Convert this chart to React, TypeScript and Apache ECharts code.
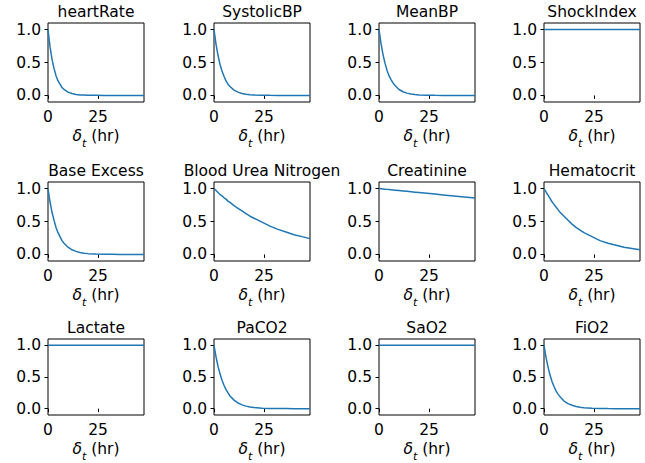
import React, { useEffect, useRef } from "react";
import * as echarts from "echarts";

const hours = [0, 1, 2, 3, 4, 5, 6, 7, 8, 10, 12, 14, 16, 18, 20, 24, 28, 32, 36, 40, 44, 48];

const titles = [
  "heartRate", "SystolicBP", "MeanBP", "ShockIndex",
  "Base Excess", "Blood Urea Nitrogen", "Creatinine", "Hematocrit",
  "Lactate", "PaCO2", "SaO2", "FiO2",
];

const heartRate = [1.0, 0.74, 0.55, 0.41, 0.3, 0.22, 0.17, 0.12, 0.09, 0.05, 0.03, 0.015, 0.008, 0.005, 0.002, 0.001, 0, 0, 0, 0, 0, 0];
const systolicBP = [1.0, 0.78, 0.61, 0.47, 0.37, 0.29, 0.22, 0.17, 0.135, 0.08, 0.05, 0.03, 0.018, 0.011, 0.007, 0.003, 0.001, 0, 0, 0, 0, 0];
const meanBP = [1.0, 0.79, 0.62, 0.49, 0.38, 0.3, 0.24, 0.19, 0.15, 0.09, 0.056, 0.035, 0.022, 0.013, 0.008, 0.003, 0.001, 0, 0, 0, 0, 0];
const shockIndex = [1, 1, 1, 1, 1, 1, 1, 1, 1, 1, 1, 1, 1, 1, 1, 1, 1, 1, 1, 1, 1, 1];
const baseExcess = [1.0, 0.8, 0.64, 0.52, 0.41, 0.33, 0.27, 0.21, 0.17, 0.11, 0.07, 0.046, 0.03, 0.019, 0.012, 0.005, 0.002, 0.001, 0, 0, 0, 0];
const bloodUreaNitrogen = [1.0, 0.97, 0.94, 0.91, 0.89, 0.86, 0.84, 0.81, 0.79, 0.74, 0.7, 0.66, 0.62, 0.58, 0.55, 0.49, 0.43, 0.38, 0.34, 0.3, 0.27, 0.24];
const creatinine = [1.0, 0.997, 0.994, 0.991, 0.988, 0.985, 0.982, 0.979, 0.976, 0.97, 0.964, 0.958, 0.952, 0.946, 0.94, 0.928, 0.916, 0.904, 0.892, 0.88, 0.868, 0.856];
const hematocrit = [1.0, 0.95, 0.9, 0.85, 0.8, 0.76, 0.72, 0.68, 0.64, 0.58, 0.52, 0.46, 0.41, 0.37, 0.33, 0.27, 0.21, 0.17, 0.14, 0.11, 0.09, 0.07];
const lactate = [1, 1, 1, 1, 1, 1, 1, 1, 1, 1, 1, 1, 1, 1, 1, 1, 1, 1, 1, 1, 1, 1];
const paCO2 = [1.0, 0.82, 0.67, 0.55, 0.45, 0.37, 0.3, 0.25, 0.2, 0.135, 0.09, 0.06, 0.04, 0.027, 0.018, 0.008, 0.004, 0.002, 0.001, 0, 0, 0];
const saO2 = [1, 1, 1, 1, 1, 1, 1, 1, 1, 1, 1, 1, 1, 1, 1, 1, 1, 1, 1, 1, 1, 1];
const fiO2 = [1.0, 0.81, 0.66, 0.53, 0.43, 0.35, 0.28, 0.23, 0.19, 0.12, 0.08, 0.053, 0.035, 0.023, 0.015, 0.006, 0.003, 0.001, 0, 0, 0, 0];

const seriesValues = [
  heartRate, systolicBP, meanBP, shockIndex,
  baseExcess, bloodUreaNitrogen, creatinine, hematocrit,
  lactate, paCO2, saO2, fiO2,
];

const xTicks = [0, 25];
const yTicks = [0, 0.5, 1.0];

const FONT = "DejaVu Sans";
const FS = 15.5;

export default function App() {
  const ref = useRef<HTMLDivElement>(null);
  useEffect(() => {
    if (!ref.current) return;
    const chart = echarts.init(ref.current, null, { renderer: "svg" });
    const colLeft = [48, 214, 379, 544];
    const rowTop = [23, 182, 339];
    const W = 96;
    const H = 79;
    const grids: any[] = [];
    const xAxes: any[] = [];
    const yAxes: any[] = [];
    const series: any[] = [];
    const title: any[] = [];
    titles.forEach((t, i) => {
      const r = Math.floor(i / 4);
      const c = i % 4;
      grids.push({
        left: colLeft[c], top: rowTop[r], width: W, height: H,
        show: true, borderColor: "#000", borderWidth: 1, backgroundColor: "transparent",
      });
      title.push({
        text: t,
        left: colLeft[c] + W / 2,
        top: rowTop[r] - 19,
        textAlign: "center",
        padding: 0,
        textStyle: { fontFamily: FONT, fontSize: FS, fontWeight: "normal", color: "#000" },
      });
      xAxes.push({
        type: "value", gridIndex: i, min: 0, max: 48,
        axisLine: { show: false },
        splitLine: { show: false },
        axisTick: { show: true, length: 3.5, customValues: xTicks, lineStyle: { color: "#000", width: 1 } },
        axisLabel: {
          customValues: xTicks, margin: 7, hideOverlap: false, showMinLabel: true, showMaxLabel: true,
          fontFamily: FONT, fontSize: FS, color: "#000", formatter: (v: number) => String(v),
        },
        name: "{d|δ}{b|t}{a| (hr)}",
        nameLocation: "middle",
        nameGap: 26,
        nameTextStyle: {
          rich: {
            d: { fontFamily: FONT, fontSize: FS, fontStyle: "italic", color: "#000", lineHeight: 21, verticalAlign: "top" },
            a: { fontFamily: FONT, fontSize: FS, color: "#000", lineHeight: 21, verticalAlign: "top" },
            b: { fontFamily: FONT, fontSize: 11, fontStyle: "italic", color: "#000", lineHeight: 21, verticalAlign: "bottom" },
          },
        },
      });
      yAxes.push({
        type: "value", gridIndex: i, min: -0.1, max: 1.1,
        axisLine: { show: false },
        splitLine: { show: false },
        axisTick: { show: true, length: 3.5, customValues: yTicks, lineStyle: { color: "#000", width: 1 } },
        axisLabel: {
          customValues: yTicks, margin: 7, hideOverlap: false, showMinLabel: true, showMaxLabel: true,
          fontFamily: FONT, fontSize: FS, color: "#000", formatter: (v: number) => v.toFixed(1),
        },
      });
      series.push({
        type: "line", xAxisIndex: i, yAxisIndex: i,
        data: hours.map((h, k) => [h, seriesValues[i][k]]),
        showSymbol: false, symbol: "none",
        lineStyle: { color: "#1f77b4", width: 1.5 },
        clip: true,
      });
    });
    chart.setOption({
      animation: false,
      backgroundColor: "#fff",
      title, grid: grids, xAxis: xAxes, yAxis: yAxes, series,
    });
    return () => chart.dispose();
  }, []);
  return <div ref={ref} style={{ position: "fixed", left: 0, top: 0, width: 645, height: 463 }} />;
}
